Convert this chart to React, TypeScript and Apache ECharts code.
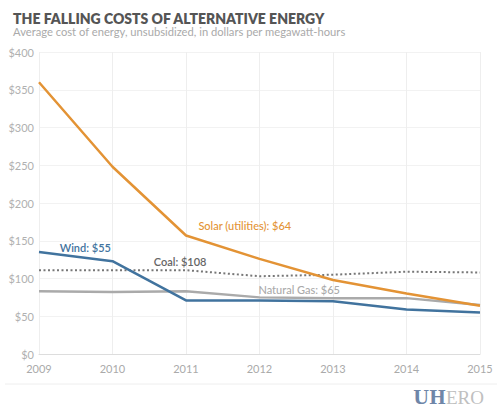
import React, { useEffect, useRef } from "react";
import * as echarts from "echarts";

const years = [2009, 2010, 2011, 2012, 2013, 2014, 2015];
const solar = [360, 248, 157, 126, 98, 80, 64];
const wind = [135, 123, 71, 71, 70, 59, 55];
const coal = [111, 111, 111, 103, 105, 109, 108];
const gas = [83, 82, 83, 75, 74, 74, 65];

const labels = [
  { text: "Wind: $55", x: 2009.63, y: 141, color: "#41739e", weight: 600 },
  { text: "Coal: $108", x: 2010.92, y: 122, color: "#666666", weight: 600 },
  { text: "Solar (utilities): $64", x: 2011.8, y: 170, color: "#e39335", weight: 500 },
  { text: "Natural Gas: $65", x: 2012.54, y: 86, color: "#aaaaaa", weight: 500 },
];

const FONT = "Lato, 'Noto Sans', sans-serif";

export default function App() {
  const ref = useRef<HTMLDivElement>(null);
  useEffect(() => {
    const chart = echarts.init(ref.current!, null, { renderer: "svg" });
    const mk = (vals: number[]) => vals.map((v, i) => [years[i], v]);
    chart.setOption({
      animation: false,
      backgroundColor: "#ffffff",
      textStyle: { fontFamily: FONT },
      title: [
        {
          text: "THE FALLING COSTS OF ALTERNATIVE ENERGY",
          left: 8,
          top: 6,
          textStyle: { fontSize: 14, fontWeight: 800, color: "#555555", fontFamily: FONT },
        },
        {
          text: "Average cost of energy, unsubsidized, in dollars per megawatt-hours",
          left: 8,
          top: 21,
          textStyle: { fontSize: 11.2, fontWeight: 400, color: "#aaaaaa", fontFamily: FONT },
        },
      ],
      grid: { left: 39, right: 20, top: 52, bottom: 62 },
      xAxis: {
        type: "value",
        min: 2009,
        max: 2015,
        interval: 1,
        axisLine: { show: true, lineStyle: { color: "#dddddd", width: 1 } },
        axisTick: { show: false },
        splitLine: { show: true, lineStyle: { color: "#eeeeee", width: 1 } },
        axisLabel: { color: "#aaaaaa", fontSize: 11, margin: 9, formatter: (v: number) => String(v) },
      },
      yAxis: {
        type: "value",
        min: 0,
        max: 400,
        interval: 50,
        axisLine: { show: false },
        axisTick: { show: false },
        splitLine: { show: true, lineStyle: { color: "#f2f2f2", width: 1 } },
        axisLabel: { color: "#b0b0b0", fontSize: 11, margin: 5, formatter: (v: number) => "$" + v },
      },
      graphic: [
        {
          type: "line",
          shape: { x1: 5, y1: 384, x2: 497, y2: 384 },
          style: { stroke: "#eeeeee", lineWidth: 1 },
        },
        {
          type: "text",
          right: 16,
          top: 388,
          style: {
            text: "{a|UH}{b|ERO}",
            rich: {
              a: { fontFamily: "'DejaVu Serif', 'Liberation Serif', serif", fontSize: 18, fontWeight: "bold", fill: "#6f86a8" },
              b: { fontFamily: "'Liberation Serif', serif", fontSize: 19, fill: "#c0c0c0" },
            },
          },
        },
      ],
      series: [
        {
          type: "line",
          data: mk(gas),
          symbol: "none",
          lineStyle: { color: "#aaaaaa", width: 2.5 },
          z: 2,
        },
        {
          type: "line",
          data: mk(coal),
          symbol: "none",
          lineStyle: { color: "#777777", width: 2, type: [2, 2.5] },
          z: 3,
        },
        {
          type: "line",
          data: mk(wind),
          symbol: "none",
          lineStyle: { color: "#41739e", width: 2.5 },
          z: 4,
        },
        {
          type: "line",
          data: mk(solar),
          symbol: "none",
          lineStyle: { color: "#e39335", width: 2.5 },
          z: 5,
          markPoint: {
            symbol: "circle",
            symbolSize: 0,
            silent: true,
            data: labels.map((l) => ({
              coord: [l.x, l.y],
              label: {
                show: true,
                position: "inside",
                formatter: l.text,
                color: l.color,
                fontSize: 11,
                fontWeight: l.weight,
                fontFamily: FONT,
              },
            })),
          },
        },
      ],
    });
    return () => chart.dispose();
  }, []);
  return <div ref={ref} style={{ width: 500, height: 416, position: "absolute", left: 0, top: 0 }} />;
}
